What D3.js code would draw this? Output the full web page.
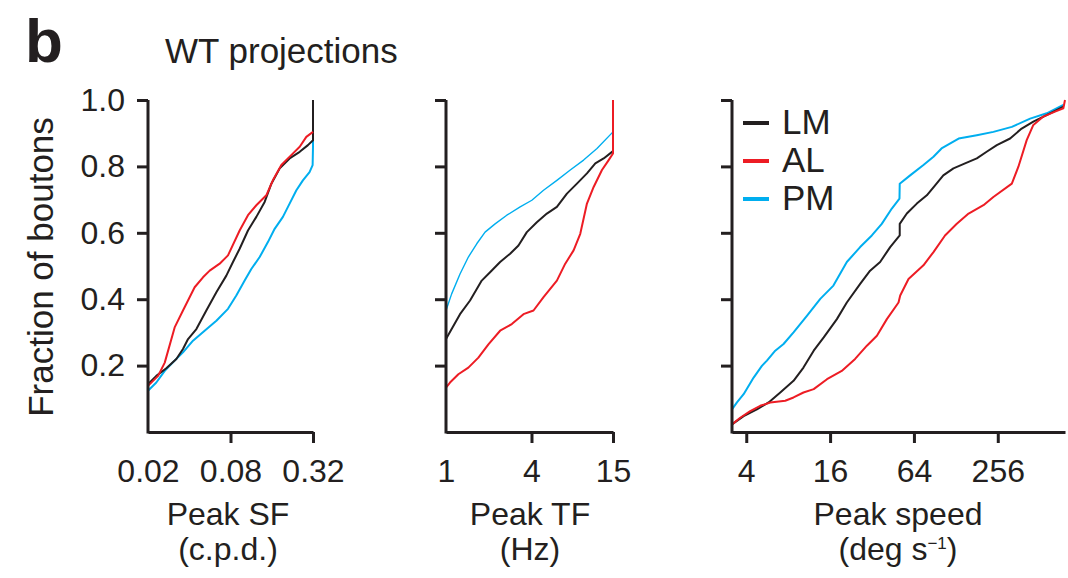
<!DOCTYPE html>
<html>
<head>
<meta charset="utf-8">
<script src="https://cdn.jsdelivr.net/npm/d3@7"></script>
<style>
  html, body { margin: 0; padding: 0; background: #ffffff; }
  svg { display: block; }
  text { font-family: "Liberation Sans", Arial, Helvetica, sans-serif; fill: #231f20; }
</style>
</head>
<body>
<svg id="chart" width="1068" height="578"></svg>
<script>
// ---------- data ----------
const series = ["LM", "AL", "PM"];
const yTicks = [0.2, 0.4, 0.6, 0.8, 1.0];

const sfTicks = [0.02, 0.08, 0.32];
const sfLM = [[0.0200,0.144],[0.0230,0.169],[0.0272,0.192],[0.0322,0.220],[0.0360,0.250],[0.0392,0.280],[0.0451,0.310],[0.0533,0.366],[0.0631,0.421],[0.0746,0.471],[0.0834,0.512],[0.0933,0.552],[0.1073,0.607],[0.1235,0.648],[0.142,0.693],[0.159,0.748],[0.183,0.794],[0.216,0.824],[0.256,0.844],[0.294,0.864],[0.32,0.879],[0.32,1.0]];
const sfAL = [[0.0200,0.139],[0.0237,0.169],[0.0265,0.209],[0.0313,0.315],[0.0360,0.366],[0.0438,0.436],[0.0504,0.466],[0.0564,0.486],[0.0667,0.507],[0.0767,0.532],[0.0933,0.607],[0.1073,0.653],[0.1235,0.683],[0.146,0.713],[0.163,0.758],[0.188,0.804],[0.222,0.834],[0.256,0.859],[0.286,0.889],[0.32,0.904]];
const sfPM = [[0.0200,0.124],[0.0230,0.149],[0.0265,0.184],[0.0313,0.215],[0.0360,0.240],[0.0426,0.275],[0.0518,0.305],[0.0631,0.335],[0.0767,0.371],[0.0882,0.411],[0.1015,0.456],[0.1135,0.491],[0.1306,0.527],[0.150,0.572],[0.168,0.612],[0.193,0.648],[0.216,0.688],[0.242,0.728],[0.270,0.758],[0.302,0.783],[0.318,0.804],[0.32,0.859],[0.32,0.884]];

const tfTicks = [1, 4, 15];
const tfLM = [[1,0],[1,0.280],[1.096,0.310],[1.255,0.355],[1.477,0.396],[1.785,0.456],[2.044,0.481],[2.405,0.512],[2.829,0.537],[3.239,0.562],[3.709,0.602],[4.363,0.632],[5.133,0.658],[6.038,0.678],[7.104,0.718],[8.357,0.748],[9.831,0.779],[11.26,0.809],[12.89,0.824],[15,0.846]];
const tfAL = [[1,0],[1,0.134],[1.067,0.149],[1.222,0.174],[1.437,0.194],[1.691,0.224],[1.989,0.264],[2.405,0.305],[2.907,0.325],[3.513,0.355],[4.133,0.366],[4.862,0.406],[6.038,0.456],[6.914,0.507],[7.917,0.547],[8.822,0.597],[9.831,0.688],[10.96,0.738],[12.54,0.789],[13.98,0.819],[15,0.839],[15,1.0]];
const tfPM = [[1,0],[1,0.366],[1.096,0.416],[1.255,0.476],[1.437,0.527],[1.646,0.567],[1.884,0.602],[2.217,0.627],[2.680,0.653],[3.328,0.678],[4.023,0.698],[4.862,0.728],[6.038,0.758],[7.499,0.789],[9.312,0.819],[11.57,0.854],[15,0.904]];

const spTicks = [4, 16, 64, 256];
const spLM = [[3.16,0.023],[3.83,0.048],[4.77,0.068],[5.79,0.089],[7.02,0.119],[8.74,0.154],[10.3,0.194],[12.2,0.245],[14.4,0.285],[17.9,0.340],[21.1,0.390],[26.3,0.446],[31.0,0.486],[36.6,0.512],[43.2,0.557],[50.6,0.592],[50.6,0.627],[56.9,0.658],[67.1,0.688],[79.2,0.713],[90.8,0.743],[104,0.773],[123,0.794],[149,0.809],[181,0.824],[213,0.844],[252,0.864],[314,0.884],[380,0.914],[461,0.935],[608,0.960],[757,0.980]];
const spAL = [[3.16,0.023],[3.62,0.043],[4.27,0.063],[5.04,0.079],[5.95,0.089],[7.62,0.094],[8.74,0.104],[10.3,0.119],[12.2,0.129],[15.2,0.159],[19.4,0.184],[24.2,0.220],[29.4,0.260],[34.7,0.290],[40.9,0.340],[49.6,0.390],[51.0,0.411],[58.5,0.461],[74.9,0.502],[88.4,0.542],[107,0.592],[130,0.627],[158,0.658],[202,0.683],[238,0.708],[323,0.748],[360,0.799],[413,0.879],[461,0.925],[544,0.950],[660,0.965],[757,0.975],[778,1.0]];
const spPM = [[3.16,0.068],[3.43,0.089],[3.83,0.114],[4.52,0.164],[5.18,0.199],[5.63,0.215],[6.46,0.245],[7.41,0.265],[8.74,0.300],[10.9,0.350],[13.6,0.401],[16.9,0.441],[21.1,0.512],[26.3,0.557],[31.9,0.592],[37.6,0.627],[44.4,0.673],[50.4,0.703],[50.6,0.748],[60.1,0.773],[74.9,0.804],[88.4,0.829],[101,0.854],[134,0.884],[181,0.894],[238,0.904],[323,0.919],[437,0.944],[575,0.960],[757,0.985]];

// ---------- layout & style ----------
const ink = "#231f20";
const colors = { LM: "#231f20", AL: "#ed1c24", PM: "#00aeef" };
const drawOrder = ["PM", "LM", "AL"];
const yTop = 100, yBottom = 432;
const tickLen = 11;
const fontTick = 32;

const svg = d3.select("#chart");
const y = d3.scaleLinear().domain([0, 1]).range([yBottom, yTop]);

const panels = [
  { domain: [0.02, 0.32], range: [148, 313], ticks: sfTicks,
    data: { LM: sfLM, AL: sfAL, PM: sfPM }, labels: true, pmWidth: 2,
    title: ["Peak SF", "(c.p.d.)"], titleX: 228 },
  { domain: [1, 15], range: [446, 613], ticks: tfTicks,
    data: { LM: tfLM, AL: tfAL, PM: tfPM }, labels: false, pmWidth: 1.4,
    title: ["Peak TF", "(Hz)"], titleX: 530 },
  { domain: [3.16, 778], range: [732, 1065], ticks: spTicks,
    data: { LM: spLM, AL: spAL, PM: spPM }, labels: false, pmWidth: 2,
    title: ["Peak speed", null], titleX: 898 }
];

panels.forEach((p) => {
  const x = d3.scaleLog().domain(p.domain).range(p.range);
  const g = svg.append("g");

  // curves
  const line = d3.line().x(d => x(d[0])).y(d => y(d[1]));
  drawOrder.forEach(s => {
    g.append("path")
      .datum(p.data[s])
      .attr("d", line)
      .attr("fill", "none")
      .attr("stroke", colors[s])
      .attr("stroke-width", s === "PM" ? p.pmWidth : 2)
      .attr("stroke-linejoin", "round");
  });

  // y axis
  const yAxis = d3.axisLeft(y).tickValues(yTicks).tickSize(tickLen).tickSizeOuter(0).tickPadding(12)
    .tickFormat(p.labels ? d3.format(".1f") : () => "");
  const ya = g.append("g").attr("transform", `translate(${p.range[0]},0)`).call(yAxis);
  ya.select(".domain").attr("stroke", ink).attr("stroke-width", 3).attr("d", `M0,${yTop}V${yBottom + 1.5}`);
  ya.selectAll(".tick line").attr("stroke", ink).attr("stroke-width", 3);
  ya.selectAll(".tick text").attr("font-size", fontTick).attr("fill", ink)
    .attr("font-family", "'Liberation Sans', Arial, sans-serif");

  // x axis
  const xAxis = d3.axisBottom(x).tickValues(p.ticks).tickSize(tickLen).tickSizeOuter(0).tickFormat(d => String(d));
  const xa = g.append("g").attr("transform", `translate(0,${yBottom})`).call(xAxis);
  xa.select(".domain").attr("stroke", ink).attr("stroke-width", 3);
  xa.selectAll(".tick line").attr("stroke", ink).attr("stroke-width", 3)
    .attr("display", d => (x(d) - p.range[0] < 2 ? "none" : null));
  xa.selectAll(".tick text").attr("font-size", fontTick).attr("fill", ink)
    .attr("y", 50).attr("dy", 0)
    .attr("font-family", "'Liberation Sans', Arial, sans-serif");

  // x title
  svg.append("text").attr("x", p.titleX).attr("y", 525)
    .attr("text-anchor", "middle").attr("font-size", fontTick).text(p.title[0]);
  const t2 = svg.append("text").attr("x", p.titleX).attr("y", 560)
    .attr("text-anchor", "middle").attr("font-size", fontTick);
  if (p.title[1]) {
    t2.text(p.title[1]);
  } else {
    t2.append("tspan").text("(deg s");
    t2.append("tspan").attr("font-size", 17).attr("dy", -11).text("\u22121");
    t2.append("tspan").attr("dy", 11).text(")");
  }
});

// y label
svg.append("text")
  .attr("transform", "translate(53,267) rotate(-90)")
  .attr("text-anchor", "middle")
  .attr("font-size", 35)
  .text("Fraction of boutons");

// panel letter & title
svg.append("text").attr("x", 25).attr("y", 62).attr("font-size", 62).attr("font-weight", "bold").text("b");
svg.append("text").attr("x", 165).attr("y", 63).attr("font-size", 35).text("WT projections");

// legend
const legendY = [123, 161, 199];
series.forEach((s, i) => {
  svg.append("line").attr("x1", 743).attr("x2", 769).attr("y1", legendY[i]).attr("y2", legendY[i])
    .attr("stroke", colors[s]).attr("stroke-width", 4);
  svg.append("text").attr("x", 782).attr("y", legendY[i] + 11).attr("font-size", 35).text(s);
});
</script>
</body>
</html>
